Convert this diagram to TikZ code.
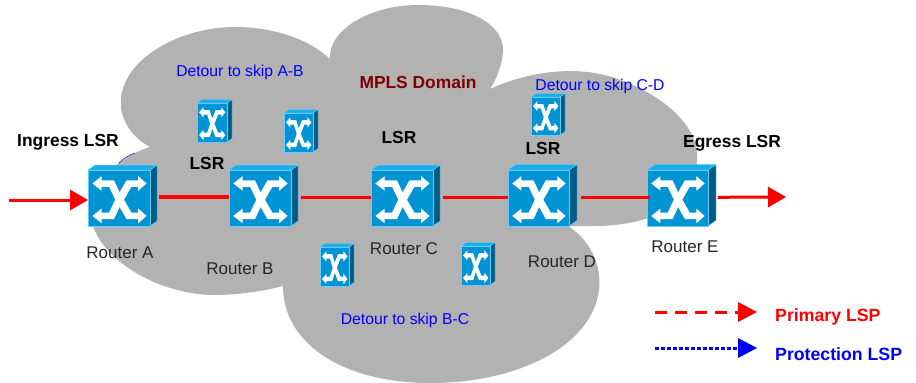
\documentclass[tikz,border=0pt]{standalone}
\usepackage{fontspec}
\setmainfont{Liberation Sans}
\usetikzlibrary{arrows.meta,calc}
\definecolor{cloudgray}{HTML}{B2B2B2}
\definecolor{rfront}{HTML}{0094D4}
\definecolor{rtop}{HTML}{19AEEA}
\definecolor{rside}{HTML}{005C84}
\definecolor{redge}{HTML}{66CCFF}
\definecolor{darkred}{HTML}{800000}
\tikzset{
  x=1pt,y=-1pt,
  lbl/.style={font=\fontsize{17}{19}\selectfont,inner sep=0pt,text=black!85},
  lsr/.style={font=\fontsize{17.4}{19}\selectfont\bfseries,inner sep=0pt},
  det/.style={font=\fontsize{15.7}{18}\selectfont,inner sep=0pt,text=blue},
  leg/.style={font=\fontsize{17.7}{19}\selectfont\bfseries,inner sep=0pt},
  link/.style={red,line width=3pt},
  tip/.style={-{Triangle[length=18pt,width=20pt]}},
}
% name, left x, top y of front, width, height, depth
\newcommand{\router}[6]{%
  \begin{scope}[shift={(#2,#3)}]
    \fill[rside,draw=redge,line width=.4pt] (#4,0) -- ++(#6,-#6*.7) -- ++(0,#5) -- (#4,#5) -- cycle;
    \fill[rtop,draw=redge,line width=.4pt] (0,0) -- ++(#6,-#6*.7) -- ++(#4,0) -- (#4,0) -- cycle;
    \node[draw=redge,fill=rfront,line width=.6pt,inner sep=0pt,minimum width=#4,minimum height=#5,anchor=north west] (#1) at (0,0) {};
    \begin{scope}[x=#4 pt,y=-#5 pt]
      \fill[white] (.34,.30) -- (.44,.53) -- (.34,.76) -- (.22,.76) -- (.22,.69) -- (.07,.82) -- (.22,.95) -- (.22,.875) -- (.42,.875) -- (.51,.66) -- (.62,.875) -- (.81,.875) -- (.81,.95) -- (.945,.82) -- (.81,.69) -- (.81,.76) -- (.70,.76) -- (.58,.53) -- (.70,.30) -- (.81,.30) -- (.81,.37) -- (.945,.24) -- (.81,.11) -- (.81,.185) -- (.62,.185) -- (.51,.40) -- (.42,.185) -- (.22,.185) -- (.22,.11) -- (.07,.24) -- (.22,.37) -- (.22,.30) -- cycle;
    \end{scope}
  \end{scope}}
\begin{document}
\begin{tikzpicture}
\useasboundingbox (0,0) rectangle (916,383);
% cloud
\fill[cloudgray] (150,147)
  .. controls (128,135) and (119,115) .. (121,98)
  .. controls (125,58) and (180,27) .. (235,27)
  .. controls (275,27) and (310,40) .. (330,59)
  .. controls (328,30) and (370,5) .. (418,5)
  .. controls (470,5) and (505,25) .. (503,52)
  .. controls (502,65) and (497,78) .. (490,89)
  .. controls (520,75) and (570,63) .. (615,78)
  .. controls (660,93) and (700,125) .. (697,160)
  .. controls (694,205) and (650,227) .. (590,226)
  .. controls (582,226) and (575,226) .. (568,226)
  .. controls (590,240) and (602,265) .. (599,290)
  .. controls (592,345) and (520,383) .. (430,383)
  .. controls (345,383) and (283,345) .. (283,286)
  .. controls (260,292) and (235,295) .. (215,295)
  .. controls (160,295) and (105,262) .. (93,226)
  .. controls (88,205) and (100,175) .. (119,163)
  .. controls (128,156) and (140,150) .. (150,147) -- cycle;
% small blue arc
\draw[blue,line width=.5pt] (119,163) .. controls (123,159) and (127,156) .. (135,153);
% detour routers
\router{d1}{197}{103}{30}{39}{5}
\router{d2}{284}{113}{29}{39}{5}
\router{d3}{320}{247}{29}{39}{5}
\router{d4}{461}{246}{29}{39}{5}
\router{d5}{531}{97}{29}{38}{5}
% main routers
\router{ra}{88}{170}{62}{56}{7}
\router{rb}{229}{170}{62}{56}{7}
\router{rc}{371}{170}{62}{56}{7}
\router{rd}{508}{170}{61}{56}{8}
\router{re}{647}{170}{61}{56}{8}
% links
\coordinate (inA) at (9,200);
\coordinate (outE) at (786,197);
\draw[link,tip] (inA) -- (ra.west |- inA);
\draw[red,line width=4pt] ($(ra.east)+(8,-1)$) -- ($(rb.west)+(0,-1)$);
\draw[link] ($(rb.east)+(9,-1)$) -- ($(rc.west)+(0,-1)$);
\draw[link] ($(rc.east)+(9,-1)$) -- ($(rd.west)+(0,-1)$);
\draw[link] ($(rd.east)+(11,-1)$) -- ($(re.west)+(3,-1)$);
\draw[link,tip] ($(re.east)+(9,-1)$) -- (outE);
% labels
\node[lsr] (t1) at (68,142) {Ingress LSR};
\node[lsr] (t2) at (207,164) {LSR};
\node[lsr] (t3) at (399,138) {LSR};
\node[lsr] (t4) at (543,149) {LSR};
\node[lsr] (t5) at (732,143) {Egress LSR};
\node[lbl] (l1) at (120,253) {Router A};
\node[lbl] (l2) at (240,269) {Router B};
\node[lbl] (l3) at (404,249) {Router C};
\node[lbl] (l4) at (562,262) {Router D};
\node[lbl] (l5) at (685,247) {Router E};
\node[det] (d1t) at (240,72) {Detour to skip A-B};
\node[det] (d2t) at (405,320) {Detour to skip B-C};
\node[det] (d3t) at (600,86) {Detour to skip C-D};
\node[font=\fontsize{17.4}{19}\selectfont\bfseries,text=darkred,inner sep=0pt] (mpls) at (418,82) {MPLS Domain};
% legend
\coordinate (p1) at (655,312);
\coordinate (p2) at (757,312);
\coordinate (q1) at (655,348);
\coordinate (q2) at (757,348);
\draw[red,line width=3pt,dash pattern=on 12pt off 8pt] (p1) -- ($(p2)+(-18,0)$);
\fill[red] (p2) -- ++(-19,-10) -- ++(0,20) -- cycle;
\draw[blue,line width=3pt,dash pattern=on 4pt off 2pt] (q1) -- ($(q2)+(-18,0)$);
\fill[blue] (q2) -- ++(-19,-10) -- ++(0,20) -- cycle;
\node[leg,text=red,anchor=west] (pl) at (775,317) {Primary LSP};
\node[leg,text=blue,anchor=west] (ql) at (775,354) {Protection LSP};
\end{tikzpicture}
\end{document}
